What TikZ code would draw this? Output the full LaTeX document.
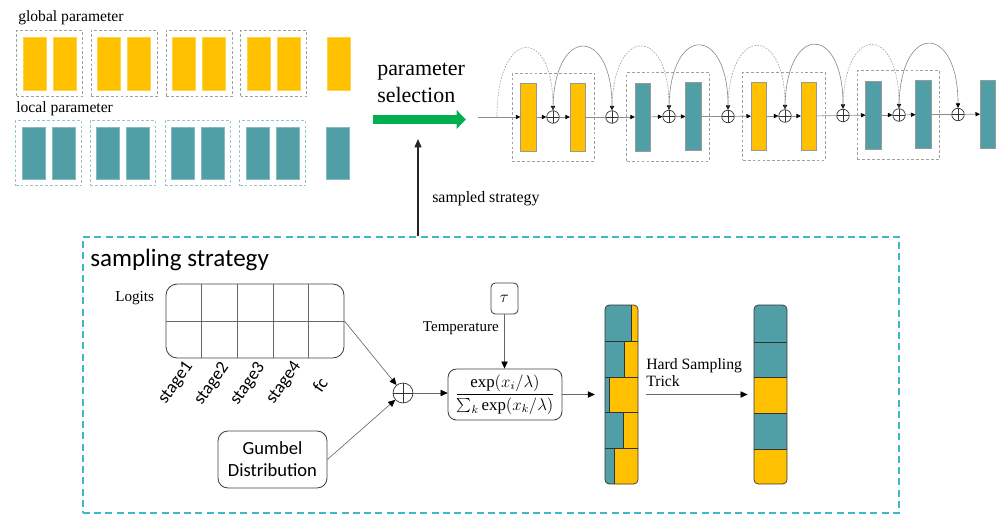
\documentclass[tikz,border=0pt]{standalone}
\usepackage{fontspec}
\setmainfont{Liberation Serif}
\newfontfamily\carl{Carlito}
\usepackage{tikz}
\usetikzlibrary{arrows.meta,fit}

\definecolor{ylw}{RGB}{255,192,0}
\definecolor{tealc}{RGB}{80,158,166}
\definecolor{grnc}{RGB}{0,176,80}
\definecolor{cyanc}{RGB}{64,184,200}

\begin{document}
\begin{tikzpicture}[x=0.025cm, y=-0.025cm,
  >={Triangle[length=5pt,width=4.5pt,color=black]},
  gp/.style={fill=ylw, draw=ylw!70!white, line width=0.3pt, minimum width=16.4pt, minimum height=37.7pt, inner sep=0},
  lp/.style={fill=tealc, draw=tealc!70!white, line width=0.3pt, minimum width=16.2pt, minimum height=37.2pt, inner sep=0},
  gbox/.style={draw=gray!75, dash pattern=on 2pt off 1.5pt, line width=0.5pt, inner xsep=4.4pt, inner ysep=4.6pt},
  lbox/.style={gbox, draw=tealc!60},
  cbox/.style={gbox, inner xsep=5.8pt, inner ysep=6.8pt},
  chr/.style={draw=gray!80, line width=0.4pt, minimum width=11pt, minimum height=48.4pt, inner sep=0},
  opl/.style={circle, draw=black!80, line width=0.5pt, minimum size=8.9pt, inner sep=0,
    path picture={\draw[black!80, line width=0.5pt] (path picture bounding box.north) -- (path picture bounding box.south)
      (path picture bounding box.west) -- (path picture bounding box.east);}},
  ln/.style={draw=gray!90, line width=0.45pt, >={Triangle[length=3.2pt,width=3pt,color=black]}},
  dotarc/.style={ln, draw=gray!70, dash pattern=on 1.2pt off 0.9pt},
  rbox/.style={draw=black!75, line width=0.6pt, inner sep=2pt},
  conn/.style={draw=gray!80!black, line width=0.45pt},
  cell/.style={draw=black!60, line width=0.4pt},
  bar/.style={draw=black!80, line width=0.5pt, rounded corners=3pt, minimum width=23.5pt, minimum height=127.3pt, inner sep=0},
  serif/.style={inner sep=0, font=\fontsize{11.1}{13}\selectfont},
  stg/.style={inner sep=0, rotate=55, font=\carl\fontsize{12.7}{14}\selectfont}
]
\useasboundingbox (0,0) rectangle (1005,519);

% global / local parameters
\node[serif, anchor=base west] (tglob) at (18,22) {global parameter};
\node[serif, anchor=base west] (tloc) at (16,112) {local parameter};
\foreach \i/\x in {1/49.5,2/124,3/199,4/273.5} {
  \node[gp] (ga\i) at (\x-15,63.5) {};
  \node[gp] (gb\i) at (\x+15,63.5) {};
  \node[gbox, fit=(ga\i)(gb\i)] (gbox\i) {};
  \node[lp] (la\i) at (\x-16,153) {};
  \node[lp] (lb\i) at (\x+14,153) {};
  \node[lbox, fit=(la\i)(lb\i)] (lbox\i) {};
}
\node[gp] (ga5) at (339,63.5) {};
\node[lp] (la5) at (338,153) {};

% parameter selection
\node[inner sep=0, anchor=north west, align=left, font=\fontsize{15.6}{19.2}\selectfont] (tsel) at (377,63) {parameter\\selection};
\coordinate (selA) at (373,119.5);
\coordinate (selB) at (466,119.5);
\draw[grnc, line width=6.4pt, -{Triangle[length=6.6pt,width=12.8pt]}] (selA) -- (selB);

% network
\coordinate (S0) at (478,117);
\coordinate (A0) at (497,117);
\node[chr, fill=ylw] (R1) at (528.5,117) {};
\node[opl] (P1) at (553,117) {};
\node[chr, fill=ylw] (R2) at (578,117) {};
\node[opl] (P2) at (612,117) {};
\node[chr, fill=tealc] (R3) at (643,117) {};
\node[opl] (P3) at (669,116.5) {};
\node[chr, fill=tealc] (R4) at (693.5,116.5) {};
\node[opl] (P4) at (728,116.5) {};
\node[chr, fill=ylw] (R5) at (759,116) {};
\node[opl] (P5) at (785,116) {};
\node[chr, fill=ylw] (R6) at (809,116) {};
\node[opl] (P6) at (843,115.5) {};
\node[chr, fill=tealc] (R7) at (873.5,115) {};
\node[opl] (P7) at (899,115) {};
\node[chr, fill=tealc] (R8) at (923.5,114.5) {};
\node[opl] (P8) at (958,114.5) {};
\node[chr, fill=tealc] (R9) at (988,114) {};

\node[cbox, fit=(R1)(R2)] (B1) {};
\node[cbox, fit=(R3)(R4)] (B2) {};
\node[cbox, fit=(R5)(R6)] (B3) {};
\node[cbox, fit=(R7)(R8)] (B4) {};

\draw[ln, ->] (S0) -- (R1);
\draw[ln, ->] (R1) -- (P1);
\draw[ln, ->] (P1) -- (R2);
\draw[ln] (R2) -- (P2);
\draw[ln, ->] (P2) -- (R3);
\draw[ln, ->] (R3) -- (P3);
\draw[ln, ->] (P3) -- (R4);
\draw[ln] (R4) -- (P4);
\draw[ln, ->] (P4) -- (R5);
\draw[ln, ->] (R5) -- (P5);
\draw[ln, ->] (P5) -- (R6);
\draw[ln] (R6) -- (P6);
\draw[ln, ->] (P6) -- (R7);
\draw[ln, ->] (R7) -- (P7);
\draw[ln, ->] (P7) -- (R8);
\draw[ln] (R8) -- (P8);
\draw[ln, ->] (P8) -- (R9);

% skip arcs
\draw[dotarc, ->] (A0) .. controls +(0,-90) and +(0,-85) .. (P1.north);
\draw[ln, ->] (P1.north) .. controls +(0,-85) and +(0,-85) .. (P2.north);
\draw[dotarc, ->] (P2.north) .. controls +(0,-85) and +(0,-85) .. (P3.north);
\draw[ln, ->] (P3.north) .. controls +(0,-86) and +(0,-86) .. (P4.north);
\draw[dotarc, ->] (P4.north) .. controls +(0,-85) and +(0,-85) .. (P5.north);
\draw[ln, ->] (P5.north) .. controls +(0,-86) and +(0,-86) .. (P6.north);
\draw[dotarc, ->] (P6.north) .. controls +(0,-85) and +(0,-85) .. (P7.north);
\draw[ln, ->] (P7.north) .. controls +(0,-86) and +(0,-86) .. (P8.north);

% sampling strategy
\node[draw=cyanc, line width=1.3pt, dash pattern=on 5pt off 3pt, minimum width=580.4pt, minimum height=196.3pt, inner sep=0] (samp) at (491,375) {};
\node[inner sep=0, anchor=base west, font=\carl\fontsize{17.8}{20}\selectfont] (tss) at (90,266) {sampling strategy};
\coordinate (st) at (418,139);
\draw[draw=black!85, line width=0.9pt, -{Triangle[length=6pt,width=5pt]}] (samp.north -| st) -- (st);
\node[serif, anchor=base west, font=\fontsize{11.3}{13}\selectfont] (tsam) at (432,202) {sampled strategy};

% logits
\node[serif, anchor=base west, font=\fontsize{10.8}{13}\selectfont] (tlog) at (115,301) {Logits};
\node[rbox, rounded corners=8pt, minimum width=126.6pt, minimum height=52.6pt] (lg) at (255,321) {};
\draw[cell] (lg.west) -- (lg.east);
\draw[cell] (201.6,284) -- (201.6,358);
\draw[cell] (237.2,284) -- (237.2,358);
\draw[cell] (272.8,284) -- (272.8,358);
\draw[cell] (308.4,284) -- (308.4,358);
\node[stg] (s1) at (176,383) {stage1};
\node[stg] (s2) at (212,384) {stage2};
\node[stg] (s3) at (248,384) {stage3};
\node[stg] (s4) at (284,383) {stage4};
\node[stg] (s5) at (320,385) {fc};

% gumbel and softmax
\node[rbox, rounded corners=7pt, minimum width=77.5pt, minimum height=40.5pt, align=center, font=\carl\fontsize{13.2}{15.6}\selectfont] (gum) at (272.5,459.5) {Gumbel\\Distribution};
\node[opl, minimum size=14.2pt] (op) at (403,393) {};
\node[rbox, rounded corners=6pt, minimum width=81pt, minimum height=36.3pt, font=\fontsize{12}{14}\selectfont] (sm) at (505,394.5) {$\displaystyle\frac{\exp(x_i/\lambda)}{\sum_k \exp(x_k/\lambda)}$};
\node[rbox, rounded corners=3pt, minimum width=19.2pt, minimum height=22pt, font=\fontsize{12}{14}\selectfont] (tau) at (504.5,298.5) {$\tau$};
\node[serif, anchor=base east, font=\fontsize{10.7}{13}\selectfont] (ttemp) at (499,331) {Temperature};

\draw[conn, ->] (lg.east) -- (op);
\draw[conn, ->] (gum.east) -- (op);
\draw[conn, ->] (op) -- (op -| sm.west);
\draw[conn, ->] (tau.south) -- (tau.south |- sm.north);

% soft sample
\fill[ylw, rounded corners=3pt] (605,305) rectangle (638,484);
\begin{scope}
\clip[rounded corners=3pt] (605,305) rectangle (638,484);
\fill[tealc] (605,305) rectangle (631,341);
\fill[tealc] (605,341) rectangle (624,377);
\fill[tealc] (605,377) rectangle (609,412);
\fill[tealc] (605,412) rectangle (623,448);
\fill[tealc] (605,448) rectangle (614,484);
\end{scope}
\draw[cell, draw=black!80] (631,305) -- (631,341) (624,341) -- (624,377) (609,377) -- (609,412) (623,412) -- (623,448) (614,448) -- (614,484);
\draw[cell, draw=black!80] (605,341) -- (638,341) (605,377) -- (638,377) (605,412) -- (638,412) (605,448) -- (638,448);
\node[bar] (soft) at (621.5,394.5) {};

% hard sample
\begin{scope}
\clip[rounded corners=3pt] (754,305) rectangle (787,484);
\fill[tealc] (754,305) rectangle (787,377);
\fill[ylw] (754,377) rectangle (787,413);
\fill[tealc] (754,413) rectangle (787,449);
\fill[ylw] (754,449) rectangle (787,484);
\end{scope}
\draw[cell, draw=black!80] (754,342) -- (787,342) (754,377) -- (787,377) (754,413) -- (787,413) (754,449) -- (787,449);
\node[bar] (hard) at (770.5,394.5) {};

\draw[conn, ->, shorten >=7pt] (sm.east) -- (soft.west);
\draw[conn, ->, shorten <=5.7pt, shorten >=4.3pt] (soft.east) -- (hard.west);
\node[inner sep=0, anchor=north west, align=left, font=\fontsize{11.2}{12.2}\selectfont] (thard) at (646,358) {Hard Sampling\\Trick};
\end{tikzpicture}
\end{document}
